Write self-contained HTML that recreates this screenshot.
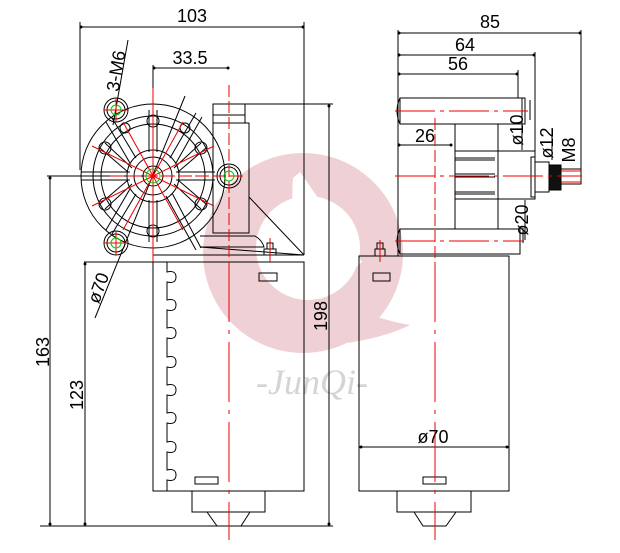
<!DOCTYPE html>
<html><head><meta charset="utf-8"><style>
html,body{margin:0;padding:0;background:#fff;}
svg{display:block;}
text{font-family:"Liberation Sans",sans-serif;fill:#000;}
</style></head><body>
<svg width="620" height="553" viewBox="0 0 620 553" xmlns="http://www.w3.org/2000/svg">
<!-- watermark -->
<g fill="#efd0d4">
<path fill-rule="evenodd" d="M303,153 A100,100 0 1,0 303.1,153 Z M308,196 A52,52 0 1,1 307.9,196 Z"/>
<path d="M330,300 Q380,320 410,325 Q380,340 330,345 Z"/>
</g>
<path d="M293,178 L300,172 Q330,215 362,262 L355,268 Q330,245 300,258 Q290,215 293,178 Z" fill="#fff"/>
<text x="312" y="394" font-size="36" text-anchor="middle" style="fill:#d4d4d8;font-family:'Liberation Serif',serif;font-style:italic">-JunQi-</text>

<g stroke="#000" stroke-width="1" fill="none">
<line x1="80" y1="27" x2="304" y2="27"/>
<line x1="80" y1="22" x2="80" y2="170"/>
<line x1="304" y1="22" x2="304" y2="255"/>
<line x1="153" y1="68" x2="229" y2="68"/>
<line x1="153" y1="65" x2="153" y2="176"/>
<line x1="47" y1="176" x2="150" y2="176"/>
<line x1="50" y1="176" x2="50" y2="526"/>
<line x1="84" y1="262" x2="153" y2="262"/>
<line x1="85" y1="262" x2="85" y2="526"/>
<line x1="40" y1="526" x2="333" y2="526"/>
<line x1="230" y1="104" x2="333" y2="104"/>
<line x1="329" y1="104" x2="329" y2="526"/>
<circle cx="153" cy="176" r="72"/>
<circle cx="153" cy="176" r="60"/>
<circle cx="153" cy="176" r="52"/>
<circle cx="153" cy="176" r="26"/>
<circle cx="153" cy="176" r="19"/>
<circle cx="153" cy="176" r="10"/>
<line x1="81" y1="172" x2="130" y2="172"/><line x1="81" y1="180" x2="130" y2="180"/>
<line x1="176" y1="172" x2="215" y2="172"/><line x1="176" y1="180" x2="215" y2="180"/>
<line x1="149" y1="110" x2="149" y2="152"/><line x1="157" y1="110" x2="157" y2="152"/>
<line x1="149" y1="200" x2="149" y2="242"/><line x1="157" y1="200" x2="157" y2="242"/>
<line x1="170" y1="158" x2="196" y2="113"/><line x1="176" y1="163" x2="202" y2="117"/>
<line x1="174" y1="168" x2="201" y2="143"/><line x1="178" y1="172" x2="206" y2="148"/>
<line x1="132" y1="168" x2="105" y2="143"/><line x1="128" y1="172" x2="100" y2="148"/>
<line x1="132" y1="184" x2="105" y2="209"/><line x1="128" y1="180" x2="100" y2="204"/>
<line x1="174" y1="184" x2="201" y2="209"/><line x1="178" y1="180" x2="206" y2="204"/>
<line x1="136" y1="158" x2="112" y2="118"/><line x1="130" y1="163" x2="106" y2="122"/>
<line x1="136" y1="194" x2="112" y2="234"/><line x1="130" y1="189" x2="106" y2="230"/>
<line x1="166" y1="196" x2="196" y2="250"/><line x1="172" y1="193" x2="201" y2="248"/>
<circle cx="153" cy="121" r="6"/><circle cx="153" cy="231" r="6"/>
<circle cx="105" cy="148" r="6"/><circle cx="201" cy="148" r="6"/>
<circle cx="105" cy="204" r="6"/><circle cx="201" cy="204" r="6"/>
<circle cx="125" cy="128" r="5"/><circle cx="185" cy="128" r="5"/>
<circle cx="116" cy="110" r="12"/><circle cx="116" cy="110" r="9"/>
<circle cx="116" cy="243" r="12"/><circle cx="116" cy="243" r="9"/>
<circle cx="229" cy="176" r="12"/><circle cx="229" cy="176" r="9"/>
<line x1="128" y1="40" x2="113" y2="125"/>
<line x1="185" y1="96" x2="95" y2="318"/>
<rect x="213" y="123" width="36" height="110"/>
<rect x="213" y="104" width="32" height="19"/>
<line x1="213" y1="115" x2="245" y2="115"/>
<line x1="249" y1="197" x2="304" y2="255"/>
<path d="M200,236 L255,236 Q262,240 264,247 L200,247"/>
<line x1="153" y1="255" x2="304" y2="255"/>
<line x1="200" y1="247" x2="304" y2="255"/>
<rect x="264" y="249" width="12" height="6"/><rect x="267" y="243" width="6" height="6"/>
<rect x="153" y="262" width="151" height="229"/>
<path d="M167,262 L167,272 Q176,270 176,277 Q176,284 167,282 L167,300 Q176,298 176,305 Q176,312 167,310 L167,328 Q176,326 176,333 Q176,340 167,338 L167,357 Q176,355 176,362 Q176,369 167,367 L167,385 Q176,383 176,390 Q176,397 167,395 L167,413 Q176,411 176,418 Q176,425 167,423 L167,442 Q176,440 176,447 Q176,454 167,452 L167,470 Q176,468 176,475 Q176,482 167,480 L167,491"/>
<rect x="259" y="273" width="18" height="8"/>
<rect x="195" y="477" width="23" height="7"/>
<rect x="192" y="491" width="73" height="21"/>
<path d="M207,512 L217,526 M250,512 L241,526"/>
<rect x="359" y="256" width="150" height="235"/>
<rect x="373" y="273" width="17" height="8"/>
<rect x="423" y="477" width="23" height="7"/>
<rect x="397" y="491" width="74" height="21"/>
<path d="M414,512 L423,526 L446,526 L456,512"/>
<line x1="359" y1="447" x2="509" y2="447"/>
<rect x="375" y="249" width="10" height="7"/><rect x="377" y="243" width="6" height="6"/>
<line x1="398" y1="33" x2="581" y2="33"/>
<line x1="581" y1="30" x2="581" y2="184"/>
<line x1="398" y1="55" x2="535" y2="55"/>
<line x1="535" y1="52" x2="535" y2="158"/>
<line x1="398" y1="74" x2="518" y2="74"/>
<line x1="518" y1="70" x2="518" y2="98"/>
<line x1="398" y1="30" x2="398" y2="256"/>
<line x1="398" y1="145" x2="452" y2="145"/>
<path d="M400,98 L525,98 L525,124 L400,124 Q394,111 400,98 Z"/>
<line x1="400" y1="98" x2="400" y2="124"/>
<path d="M400,229 L520,229 L520,254 L400,254 Q394,241 400,229 Z"/>
<line x1="400" y1="229" x2="400" y2="254"/>
<line x1="530" y1="100" x2="530" y2="120"/>
<line x1="523" y1="228" x2="523" y2="243"/>
<rect x="455" y="124" width="43" height="105"/>
<rect x="455" y="151" width="80" height="48"/>
<line x1="455" y1="158" x2="495" y2="158"/><line x1="455" y1="160" x2="495" y2="160"/>
<line x1="455" y1="174" x2="495" y2="174"/><line x1="455" y1="177" x2="495" y2="177"/>
<line x1="455" y1="192" x2="495" y2="192"/><line x1="455" y1="194" x2="495" y2="194"/>
<rect x="531" y="157" width="4" height="40"/>
<rect x="535" y="162" width="14" height="30"/>
<rect x="549" y="165" width="12" height="25" fill="#111"/>
<rect x="561" y="169" width="20" height="15"/>
<line x1="522" y1="98" x2="522" y2="150"/>
<line x1="552" y1="128" x2="552" y2="160"/>
<line x1="525" y1="200" x2="525" y2="240"/>
</g>
<g stroke="#e00" stroke-width="1" fill="none">
<line x1="229" y1="85" x2="229" y2="260" stroke-dasharray="12,4"/>
<line x1="229" y1="262" x2="229" y2="540" stroke-dasharray="60,8,4,8"/>
<line x1="153" y1="88" x2="153" y2="262"/>
<line x1="435" y1="262" x2="435" y2="540" stroke-dasharray="60,8,4,8"/>
<line x1="435" y1="118" x2="435" y2="260" stroke-dasharray="12,4"/>
<line x1="110" y1="176" x2="245" y2="176" stroke-dasharray="14,3"/>
<line x1="395" y1="176" x2="582" y2="176" stroke-dasharray="40,5,4,5"/>
<line x1="395" y1="111" x2="528" y2="111" stroke-dasharray="40,5,4,5"/>
<line x1="395" y1="241" x2="524" y2="241" stroke-dasharray="40,5,4,5"/>
<line x1="561" y1="171" x2="581" y2="171"/><line x1="561" y1="182" x2="581" y2="182"/>
<line x1="92" y1="146" x2="214" y2="206"/><line x1="92" y1="206" x2="214" y2="146"/>
<line x1="123" y1="122" x2="183" y2="230"/><line x1="183" y1="122" x2="123" y2="230"/>
<line x1="270" y1="238" x2="270" y2="262"/><line x1="380" y1="240" x2="380" y2="262"/>
<line x1="104" y1="243" x2="128" y2="243"/><line x1="116" y1="231" x2="116" y2="255"/>
<line x1="104" y1="110" x2="128" y2="110"/><line x1="116" y1="98" x2="116" y2="122"/>
</g>
<g stroke="#0c0" stroke-width="1" fill="none">
<circle cx="116" cy="110" r="5"/><circle cx="116" cy="243" r="5"/><circle cx="229" cy="176" r="5"/><circle cx="153" cy="176" r="7"/>
</g>
<g fill="#000">
<circle cx="81" cy="27" r="1.5"/><circle cx="303" cy="27" r="1.5"/>
<circle cx="154" cy="68" r="1.5"/><circle cx="228" cy="68" r="1.5"/>
<circle cx="50" cy="178" r="1.5"/><circle cx="50" cy="524" r="1.5"/>
<circle cx="85" cy="264" r="1.5"/><circle cx="85" cy="524" r="1.5"/>
<circle cx="329" cy="106" r="1.5"/><circle cx="329" cy="524" r="1.5"/>
<circle cx="399" cy="33" r="1.5"/><circle cx="580" cy="33" r="1.5"/>
<circle cx="399" cy="55" r="1.5"/><circle cx="534" cy="55" r="1.5"/>
<circle cx="399" cy="74" r="1.5"/><circle cx="517" cy="74" r="1.5"/>
<circle cx="399" cy="145" r="1.5"/><circle cx="451" cy="145" r="1.5"/>
<circle cx="361" cy="447" r="1.5"/><circle cx="507" cy="447" r="1.5"/>
</g>
<g font-size="18">
<text x="192" y="22" text-anchor="middle" textLength="30">103</text>
<text x="190" y="64" text-anchor="middle">33.5</text>
<text x="490" y="28" text-anchor="middle">85</text>
<text x="465" y="51" text-anchor="middle">64</text>
<text x="458" y="70" text-anchor="middle">56</text>
<text x="425" y="142" text-anchor="middle">26</text>
<text x="433" y="443" text-anchor="middle">ø70</text>
<text transform="translate(49,352) rotate(-90)" text-anchor="middle">163</text>
<text transform="translate(83,395) rotate(-90)" text-anchor="middle">123</text>
<text transform="translate(327,316) rotate(-90)" text-anchor="middle">198</text>
<text transform="translate(122,72) rotate(-80)" text-anchor="middle">3-M6</text>
<text transform="translate(104,290) rotate(-70)" text-anchor="middle">ø70</text>
<text transform="translate(523,130) rotate(-90)" text-anchor="middle">ø10</text>
<text transform="translate(553,143) rotate(-90)" text-anchor="middle">ø12</text>
<text transform="translate(575,150) rotate(-90)" text-anchor="middle">M8</text>
<text transform="translate(528,220) rotate(-90)" text-anchor="middle">ø20</text>
</g>
</svg>
</body></html>
